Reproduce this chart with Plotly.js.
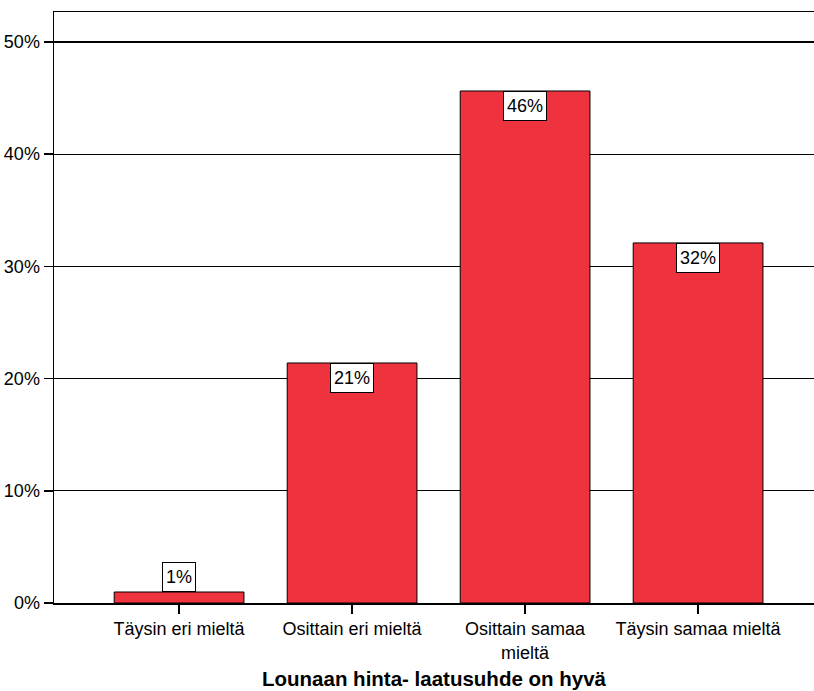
<!DOCTYPE html>
<html>
<head>
<meta charset="utf-8">
<script src="https://cdn.plot.ly/plotly-3.0.1.min.js"></script>
<style>html,body{margin:0;padding:0;background:#fff;}#chart{width:814px;height:691px;}</style>
</head>
<body>
<div id="chart"></div>
<script>
var categories = ["Täysin eri mieltä", "Osittain eri mieltä", "Osittain samaa<br>mieltä", "Täysin samaa mieltä"];
var values = [0.98, 21.39, 45.63, 32.09];
var labels = ["1%", "21%", "46%", "32%"];
var yTicks = [0, 10, 20, 30, 40, 50];

var xIdx = categories.map(function(c, i){ return i; });
var yTickText = yTicks.map(function(t){ return t + '%'; });

var annotations = values.map(function(v, i){
  var inside = v > 5;
  return {
    x: i, y: v, xref: 'x', yref: 'y',
    text: labels[i], showarrow: false,
    yanchor: inside ? 'top' : 'bottom',
    height: 22, valign: 'middle',
    bgcolor: '#ffffff', bordercolor: '#000000', borderwidth: 1, borderpad: 3,
    font: {family: 'Liberation Sans, Arial, sans-serif', size: 18, color: '#000'}
  };
});

Plotly.newPlot('chart', [{
  type: 'bar', x: xIdx, y: values,
  width: 0.75,
  marker: {color: 'rgb(239,51,62)', line: {color: '#000', width: 1}},
  hoverinfo: 'none'
}], {
  width: 814, height: 691,
  margin: {l: 54, r: 0, t: 12, b: 88},
  paper_bgcolor: '#fff', plot_bgcolor: '#fff',
  showlegend: false,
  font: {family: 'Liberation Sans, Arial, sans-serif', size: 18, color: '#000'},
  xaxis: {
    range: [-0.723, 3.67], tickmode: 'array', tickvals: xIdx, ticktext: categories,
    ticks: 'outside', ticklen: 9, tickcolor: '#000', tickwidth: 1.5,
    showline: true, linecolor: '#000', linewidth: 1.5, mirror: true,
    showgrid: false, zeroline: false,
    tickfont: {size: 18},
    title: {text: 'Lounaan hinta- laatusuhde on hyvä', font: {size: 20.5, color: '#000', weight: 'bold'}, standoff: 10}
  },
  yaxis: {
    range: [0, 52.67], tickmode: 'array', tickvals: yTicks, ticktext: yTickText,
    ticks: 'outside', ticklen: 9, tickcolor: '#000', tickwidth: 1.5,
    showline: true, linecolor: '#000', linewidth: 1.5,
    showgrid: true, gridcolor: '#000', gridwidth: 1.2, zeroline: false,
    tickfont: {size: 18}
  },
  annotations: annotations
}, {staticPlot: true});
</script>
</body>
</html>
